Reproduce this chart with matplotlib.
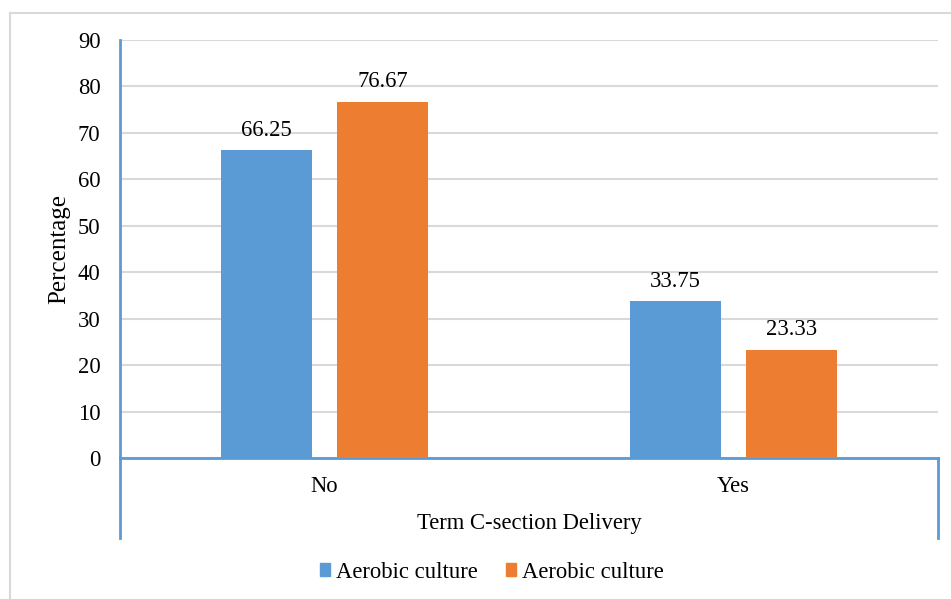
import numpy as np
import matplotlib.pyplot as plt
from matplotlib.lines import Line2D
from matplotlib.patches import Patch

plt.rcParams['font.family'] = ['Liberation Serif', 'DejaVu Serif']

categories = ['No', 'Yes']
series_names = ['Aerobic culture', 'Aerobic culture']
blue_vals = [66.25, 33.75]
orange_vals = [76.67, 23.33]
yticks = [0, 10, 20, 30, 40, 50, 60, 70, 80, 90]

blue = '#5B9BD5'
orange = '#ED7D31'
axis_col = '#5B9BD5'
grid_col = '#D9D9D9'
fs = 16.3

fig = plt.figure(figsize=(9.51, 5.99), dpi=100)
ax = fig.add_axes([120 / 951, 1 - 458 / 599, 818 / 951, 418 / 599])

x = np.arange(len(categories))
w = 0.222
off = 0.142
b1 = ax.bar(x - off, blue_vals, w, color=blue, zorder=3)
b2 = ax.bar(x + off, orange_vals, w, color=orange, zorder=3)

for bars, vals in ((b1, blue_vals), (b2, orange_vals)):
    for r, v in zip(bars, vals):
        ax.annotate(f'{v:.2f}', (r.get_x() + r.get_width() / 2, v),
                    xytext=(0, 7), textcoords='offset points',
                    ha='center', va='bottom', fontsize=fs)

ax.set_xlim(-0.5, 1.5)
ax.set_ylim(0, 90)
ax.set_yticks(yticks)
ax.yaxis.grid(True, color=grid_col, linewidth=1.5, zorder=0)
ax.set_axisbelow(True)
ax.tick_params(axis='y', length=0, labelsize=fs, pad=14)
ax.set_xticks(x)
ax.set_xticklabels(categories)
ax.tick_params(axis='x', length=0, labelsize=fs, pad=13)

for s in ('top', 'right'):
    ax.spines[s].set_visible(False)
for s in ('left', 'bottom'):
    ax.spines[s].set_color(axis_col)
    ax.spines[s].set_linewidth(2)

# category box lines below the axis
ext = -80 / 418
for xa in (0, 1):
    ax.add_line(Line2D([xa, xa], [0, ext], transform=ax.transAxes,
                       color=axis_col, linewidth=2, clip_on=False))

ax.set_ylabel('Percentage', fontsize=18)
ax.yaxis.set_label_coords(-50 / 818, 0.5)
fig.text(529 / 951, 1 - 523 / 599, 'Term C-section Delivery',
         ha='center', va='center', fontsize=fs)

handles = [Patch(color=blue), Patch(color=orange)]
fig.legend(handles, series_names, loc='center',
           bbox_to_anchor=(492 / 951, 1 - 572 / 599), ncol=2, frameon=False,
           fontsize=fs, handlelength=0.45, handleheight=0.5,
           handletextpad=0.27, columnspacing=1.25)

# outer chart border
fig.add_artist(Line2D([10 / 951, 1], [1 - 13 / 599, 1 - 13 / 599],
                      transform=fig.transFigure, color='#D9D9D9', linewidth=1.5))
fig.add_artist(Line2D([10 / 951, 10 / 951], [0, 1 - 13 / 599],
                      transform=fig.transFigure, color='#D9D9D9', linewidth=1.5))

fig.savefig('out.png', dpi=100)
